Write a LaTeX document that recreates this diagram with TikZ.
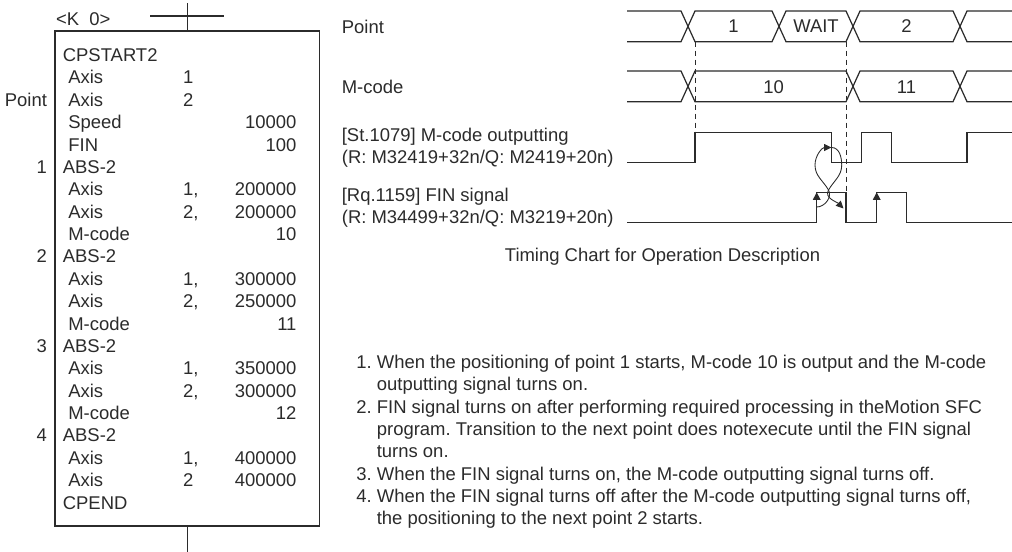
\documentclass[tikz,border=0pt]{standalone}
\usepackage{fontspec}
\setmainfont{Liberation Sans}
\usetikzlibrary{arrows.meta}
\definecolor{ink}{HTML}{2B2B2B}
\begin{document}
\begin{tikzpicture}[
	every node/.style={inner sep=0pt,text=ink,font=\fontsize{10.5}{12.7}\selectfont\frenchspacing},
	lft/.style={anchor=base west},
	rgt/.style={anchor=base east},
	sig/.style={draw=ink,line width=0.8pt},
	bus/.style={draw=ink,line width=0.7pt},
	guide/.style={draw=ink,line width=0.5pt,dash pattern=on 0.1cm off 0.08cm},
	rise/.style={draw=ink,line width=0.8pt,-{Triangle[length=0.15cm,width=0.15cm]}},
	cause/.style={draw=ink,line width=0.5pt,-{Triangle[length=0.15cm,width=0.14cm]}}]
			\useasboundingbox (0,0) rectangle (20.24,-11.02);
			\node[draw=ink,line width=0.8pt,minimum width=5.29cm,minimum height=9.9cm] (prog) at (3.745,-5.57) {};
			\coordinate (contact) at (3.745,-0.32);
			\draw[sig] (prog.north) -- ++(0,0.54);
			\draw[sig] ([xshift=-0.745cm]contact) -- ([xshift=0.735cm]contact);
			\draw[sig] (prog.south) -- ++(0,-0.5);
			\node[lft] (k0) at (1.114,-0.506) {<K\ \ 0>};
			\node[lft] (c0) at (1.25,-1.232) {CPSTART2};
			\node[lft] (c1) at (1.36,-1.679) {Axis};
			\node[lft] (a1) at (3.656,-1.679) {1};
			\node[lft] (c2) at (1.36,-2.127) {Axis};
			\node[lft] (a2) at (3.656,-2.127) {2};
			\node[lft] (c3) at (1.36,-2.574) {Speed};
			\node[rgt] (v3) at (5.936,-2.574) {10000};
			\node[lft] (c4) at (1.36,-3.022) {FIN};
			\node[rgt] (v4) at (5.936,-3.022) {100};
			\node[lft] (c5) at (1.25,-3.469) {ABS-2};
			\node[lft] (c6) at (1.36,-3.916) {Axis};
			\node[lft] (a6) at (3.656,-3.916) {1,};
			\node[rgt] (v6) at (5.936,-3.916) {200000};
			\node[lft] (c7) at (1.36,-4.364) {Axis};
			\node[lft] (a7) at (3.656,-4.364) {2,};
			\node[rgt] (v7) at (5.936,-4.364) {200000};
			\node[lft] (c8) at (1.36,-4.811) {M-code};
			\node[rgt] (v8) at (5.936,-4.811) {10};
			\node[lft] (c9) at (1.25,-5.259) {ABS-2};
			\node[lft] (c10) at (1.36,-5.706) {Axis};
			\node[lft] (a10) at (3.656,-5.706) {1,};
			\node[rgt] (v10) at (5.936,-5.706) {300000};
			\node[lft] (c11) at (1.36,-6.153) {Axis};
			\node[lft] (a11) at (3.656,-6.153) {2,};
			\node[rgt] (v11) at (5.936,-6.153) {250000};
			\node[lft] (c12) at (1.36,-6.601) {M-code};
			\node[rgt] (v12) at (5.936,-6.601) {11};
			\node[lft] (c13) at (1.25,-7.048) {ABS-2};
			\node[lft] (c14) at (1.36,-7.496) {Axis};
			\node[lft] (a14) at (3.656,-7.496) {1,};
			\node[rgt] (v14) at (5.936,-7.496) {350000};
			\node[lft] (c15) at (1.36,-7.943) {Axis};
			\node[lft] (a15) at (3.656,-7.943) {2,};
			\node[rgt] (v15) at (5.936,-7.943) {300000};
			\node[lft] (c16) at (1.36,-8.390) {M-code};
			\node[rgt] (v16) at (5.936,-8.390) {12};
			\node[lft] (c17) at (1.25,-8.838) {ABS-2};
			\node[lft] (c18) at (1.36,-9.285) {Axis};
			\node[lft] (a18) at (3.656,-9.285) {1,};
			\node[rgt] (v18) at (5.936,-9.285) {400000};
			\node[lft] (c19) at (1.36,-9.733) {Axis};
			\node[lft] (a19) at (3.656,-9.733) {2};
			\node[rgt] (v19) at (5.936,-9.733) {400000};
			\node[lft] (c20) at (1.25,-10.180) {CPEND};
			\node[rgt] (pt0) at (0.946,-2.127) {Point};
			\node[rgt] (pt1) at (0.946,-3.469) {1};
			\node[rgt] (pt2) at (0.946,-5.259) {2};
			\node[rgt] (pt3) at (0.946,-7.048) {3};
			\node[rgt] (pt4) at (0.946,-8.838) {4};
			\node[lft] (lpoint) at (6.83,-0.666) {Point};
			\node[lft] (lmcode) at (6.83,-1.866) {M-code};
			\node[lft] (lst) at (6.83,-2.82) {[St.1079] M-code outputting};
			\node[lft] (lstdev) at (6.83,-3.27) {(R: M32419+32n/Q: M2419+20n)};
			\node[lft] (lrq) at (6.83,-4.03) {[Rq.1159] FIN signal};
			\node[lft] (lrqdev) at (6.83,-4.476) {(R: M34499+32n/Q: M3219+20n)};
			\draw[bus] (12.54,-0.22) -- (13.62,-0.22) -- (13.9,-0.834) -- (15.44,-0.834) -- (15.72,-0.22) -- (16.92,-0.22) -- (17.2,-0.834) -- (19.06,-0.834) -- (19.34,-0.22) -- (20.24,-0.22);
			\draw[bus] (12.54,-0.834) -- (13.62,-0.834) -- (13.9,-0.22) -- (15.44,-0.22) -- (15.72,-0.834) -- (16.92,-0.834) -- (17.2,-0.22) -- (19.06,-0.22) -- (19.34,-0.834) -- (20.24,-0.834);
			\draw[bus] (12.54,-1.42) -- (13.62,-1.42) -- (13.9,-2.034) -- (16.92,-2.034) -- (17.2,-1.42) -- (19.06,-1.42) -- (19.34,-2.034) -- (20.24,-2.034);
			\draw[bus] (12.54,-2.034) -- (13.62,-2.034) -- (13.9,-1.42) -- (16.92,-1.42) -- (17.2,-2.034) -- (19.06,-2.034) -- (19.34,-1.42) -- (20.24,-1.42);
			\node (p1) at (14.67,-0.53) {1};
			\node (pwait) at (16.32,-0.53) {WAIT};
			\node (p2) at (18.13,-0.53) {2};
			\node (m10) at (15.47,-1.74) {10};
			\node (m11) at (18.13,-1.74) {11};
			\draw[guide] (13.9,-0.834) -- (13.9,-2.646);
			\draw[guide] (16.92,-0.834) -- (16.92,-3.846);
			\draw[sig] (12.54,-3.246) -- (13.9,-3.246) -- (13.9,-2.646) -- (16.634,-2.646) -- (16.634,-3.246) -- (17.234,-3.246) -- (17.234,-2.646) -- (17.834,-2.646) -- (17.834,-3.246) -- (19.34,-3.246) -- (19.34,-2.646) -- (20.24,-2.646);
			\draw[sig] (12.54,-4.454) -- (16.334,-4.454) -- (16.334,-3.846) -- (16.92,-3.846) -- (16.92,-4.454) -- (17.534,-4.454) -- (17.534,-3.846) -- (18.134,-3.846) -- (18.134,-4.454) -- (20.24,-4.454);
			\coordinate (finOn1) at (16.334,-3.846);
			\coordinate (finOn2) at (17.534,-3.846);
			\coordinate (finFoot) at (16.334,-4.14);
			\coordinate (mOff) at (16.63,-2.95);
			\coordinate (finOff) at (16.87,-4.17);
			\draw[rise] (16.334,-4.3) -- (finOn1);
			\draw[rise] (17.534,-4.3) -- (finOn2);
			\draw[cause] (finFoot) to[out=0,in=-60] (16.57,-3.8) to[out=120,in=-90] (16.3,-3.3) to[out=90,in=180] (mOff);
			\draw[cause] (mOff) to[out=0,in=90] (16.834,-3.3) to[out=-90,in=60] (16.57,-3.8) to[out=-120,in=135] (finOff);
			\node[anchor=base] (title) at (13.25,-5.232) {Timing Chart for Operation Description};
			\node[lft] (n1a) at (7.12,-7.366) {1. When the positioning of point 1 starts, M-code 10 is output and the M-code};
			\node[lft] (n1b) at (7.53,-7.813) {outputting signal turns on.};
			\node[lft] (n2a) at (7.12,-8.261) {2. FIN signal turns on after performing required processing in theMotion SFC};
			\node[lft] (n2b) at (7.53,-8.708) {program. Transition to the next point does notexecute until the FIN signal};
			\node[lft] (n2c) at (7.53,-9.156) {turns on.};
			\node[lft] (n3a) at (7.12,-9.603) {3. When the FIN signal turns on, the M-code outputting signal turns off.};
			\node[lft] (n4a) at (7.12,-10.050) {4. When the FIN signal turns off after the M-code outputting signal turns off,};
			\node[lft] (n4b) at (7.53,-10.498) {the positioning to the next point 2 starts.};
		\end{tikzpicture}
\end{document}
